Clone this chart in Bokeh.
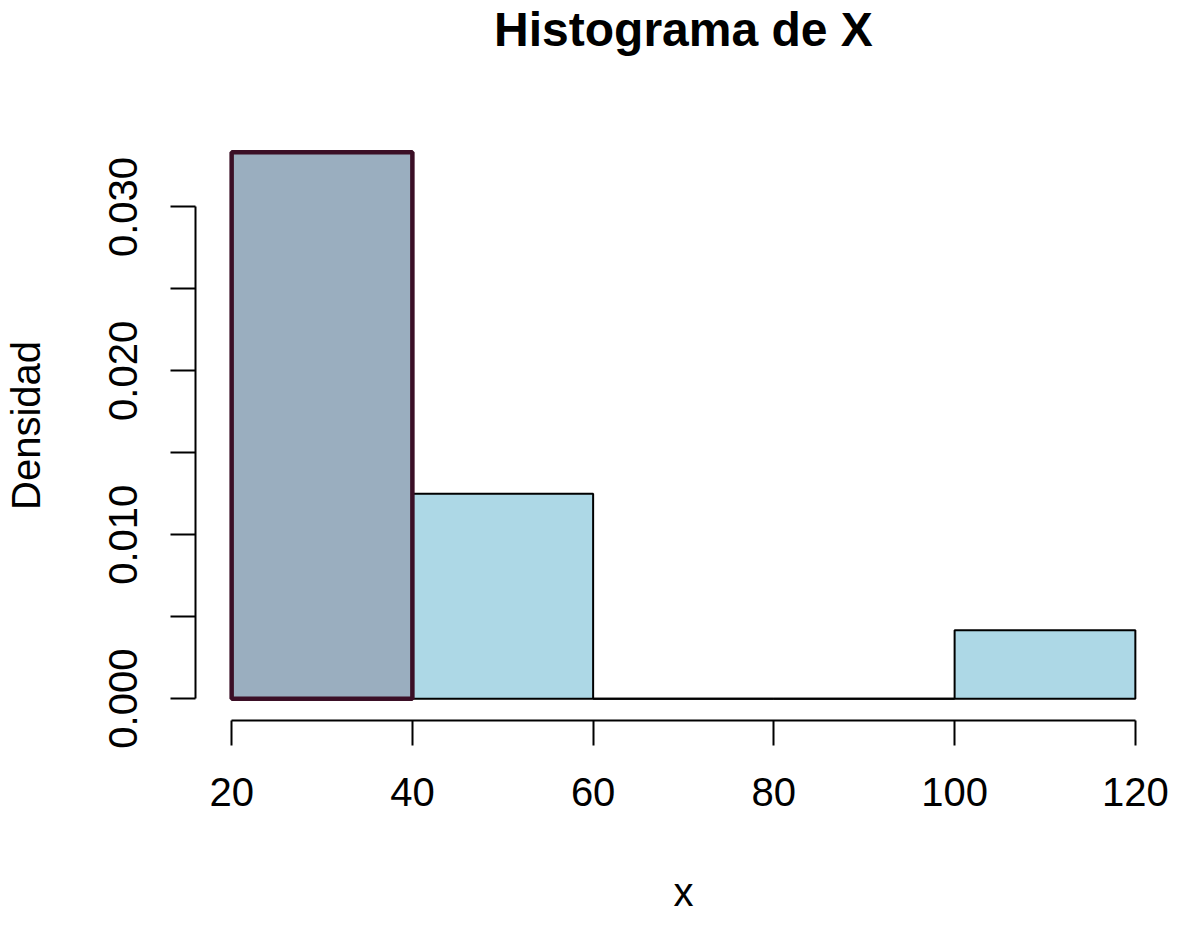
from bokeh.plotting import figure
from bokeh.models import Range1d, FixedTicker, ColumnDataSource, Title
from bokeh.embed import file_html
from bokeh.resources import INLINE

# ---- data ----
breaks = [20, 40, 60, 80, 100, 120]
density = [0.03333, 0.0125, 0.0, 0.0, 0.004167]
x_ticks = [20, 40, 60, 80, 100, 120]
y_ticks = [0.0, 0.005, 0.010, 0.015, 0.020, 0.025, 0.030]
y_tick_labels = ["0.000", "", "0.010", "", "0.020", "", "0.030"]
highlight_bin = 0
title_text = "Histograma de X"
x_label = "x"
y_label = "Densidad"

FONT = "Liberation Sans"

lefts = breaks[:-1]
rights = breaks[1:]

x0, x1 = breaks[0], breaks[-1]
y0, y1 = 0.0, max(density)
dx = (x1 - x0) * 0.04
dy = (y1 - y0) * 0.04

p = figure(width=1172, height=930, output_backend="svg", toolbar_location=None,
           x_range=Range1d(x0 - dx, x1 + dx), y_range=Range1d(y0 - dy, y1 + dy),
           min_border_left=195, min_border_right=1, min_border_top=130,
           min_border_bottom=210)
p.outline_line_color = None
p.grid.visible = False
p.background_fill_color = "white"
p.border_fill_color = "white"

# spacer between frame and title (keeps the title high, as in R)
p.add_layout(Title(text=" ", text_font_size="1px", standoff=72), "above")

# title
p.title.text = title_text
p.title.text_font = FONT
p.title.text_font_size = "48px"
p.title.text_font_style = "bold"
p.title.align = "center"
p.title.text_color = "black"
p.title.standoff = 0

# bars
normal = [i for i in range(len(density)) if i != highlight_bin]
src = ColumnDataSource(dict(
    left=[lefts[i] for i in normal], right=[rights[i] for i in normal],
    top=[density[i] for i in normal], bottom=[0.0] * len(normal)))
p.quad(left="left", right="right", top="top", bottom="bottom", source=src,
       fill_color="#ADD8E6", line_color="black", line_width=2)
zero = [i for i in normal if density[i] == 0]
if zero:
    p.segment(x0=[lefts[i] for i in zero], x1=[rights[i] for i in zero],
              y0=[0.0] * len(zero), y1=[0.0] * len(zero), line_color="black", line_width=2)
src_h = ColumnDataSource(dict(left=[lefts[highlight_bin]], right=[rights[highlight_bin]],
                              top=[density[highlight_bin]], bottom=[0.0]))
p.quad(left="left", right="right", top="top", bottom="bottom", source=src_h,
       fill_color="#9AAEBF", line_color="#3B0F26", line_width=4.5)

# axes
for ax in (p.xaxis[0], p.yaxis[0]):
    ax.axis_line_width = 2
    ax.axis_line_color = "black"
    ax.major_tick_line_width = 2
    ax.major_tick_line_color = "black"
    ax.major_tick_out = 25
    ax.major_tick_in = 0
    ax.minor_tick_line_color = None
    ax.major_label_text_font = FONT
    ax.major_label_text_font_size = "40px"
    ax.major_label_text_color = "black"
    ax.axis_label_text_font = FONT
    ax.axis_label_text_font_size = "40px"
    ax.axis_label_text_font_style = "normal"
    ax.axis_label_text_color = "black"

xa = p.xaxis[0]
xa.ticker = FixedTicker(ticks=x_ticks)
xa.bounds = (x_ticks[0], x_ticks[-1])
xa.major_label_standoff = 32
xa.axis_label = x_label
xa.axis_label_standoff = 61

ya = p.yaxis[0]
ya.ticker = FixedTicker(ticks=y_ticks)
ya.bounds = (y_ticks[0], y_ticks[-1])
ya.major_label_overrides = {t: l for t, l in zip(y_ticks, y_tick_labels)}
ya.major_label_orientation = "vertical"
ya.major_label_standoff = 33
ya.axis_label = y_label
ya.axis_label_standoff = 59

open("out.html", "w").write(file_html(p, INLINE))
